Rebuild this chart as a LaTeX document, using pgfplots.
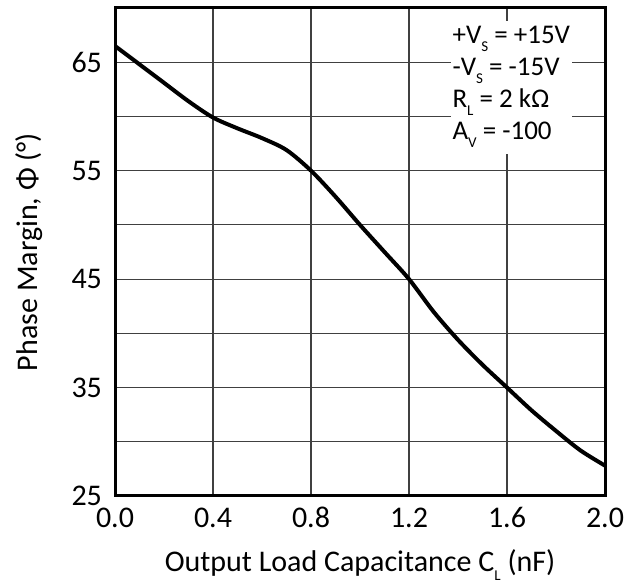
\documentclass[border=0pt]{standalone}
\usepackage{pgfplots}
\pgfplotsset{compat=1.18}
\usepackage{fontspec}
\setmainfont{Carlito}

\newcommand{\sub}[1]{\raisebox{-0.6ex}{\fontsize{7.5}{7.5}\selectfont #1}}

\pgfplotstableread{
x    y
0.0  66.5
0.1  64.8
0.2  63.1
0.3  61.4
0.4  59.9
0.5  58.9
0.6  58.0
0.7  56.9
0.8  55.0
0.9  52.6
1.0  50.0
1.1  47.5
1.2  45.0
1.3  42.0
1.4  39.4
1.5  37.1
1.6  35.0
1.7  32.9
1.8  31.0
1.9  29.2
2.0  27.8
}\phasemargin

\begin{document}
\begin{tikzpicture}
\useasboundingbox (-57.5pt,-42.5pt) rectangle (257.5pt,248pt);
\begin{axis}[
    scale only axis,
    width=245pt, height=244pt,
    xmin=0, xmax=2, ymin=25, ymax=70,
    xtick={0,0.4,0.8,1.2,1.6,2.0},
    xticklabels={0.0,0.4,0.8,1.2,1.6,2.0},
    ytick={25,35,45,55,65},
    minor ytick={30,40,50,60},
    grid=both,
    major grid style={black!75, line width=0.6pt},
    minor grid style={black!75, line width=0.6pt},
    major tick length=0pt, minor tick length=0pt,
    axis line style={line width=1.5pt},
    /pgf/number format/assume math mode=true,
    tick label style={font=\fontsize{15}{17}\selectfont},
    xticklabel style={anchor=north, text height=0.7em, text depth=0pt, yshift=-5pt},
    yticklabel style={xshift=-3pt},
    xlabel={Output Load Capacitance C\sub{L} (nF)},
    ylabel={Phase Margin, Φ (°)},
    label style={font=\fontsize{15}{17}\selectfont},
    xlabel style={at={(axis description cs:0.5,0)}, anchor=center, yshift=-34.5pt},
    ylabel style={at={(axis description cs:0,0.5)}, anchor=center, yshift=43pt},
]
\addplot[black, line width=2pt, smooth] table[x=x, y=y] {\phasemargin};
\node[anchor=north west, fill=white, inner xsep=1pt, inner ysep=3pt, align=left,
      font=\fontsize{13.5}{16}\selectfont] at (rel axis cs:0.684,0.975)
  {+V\sub{S} = +15V\\-V\sub{S} = -15V\\R\sub{L} = 2 kΩ\\A\sub{V} = -100};
\end{axis}
\end{tikzpicture}
\end{document}
